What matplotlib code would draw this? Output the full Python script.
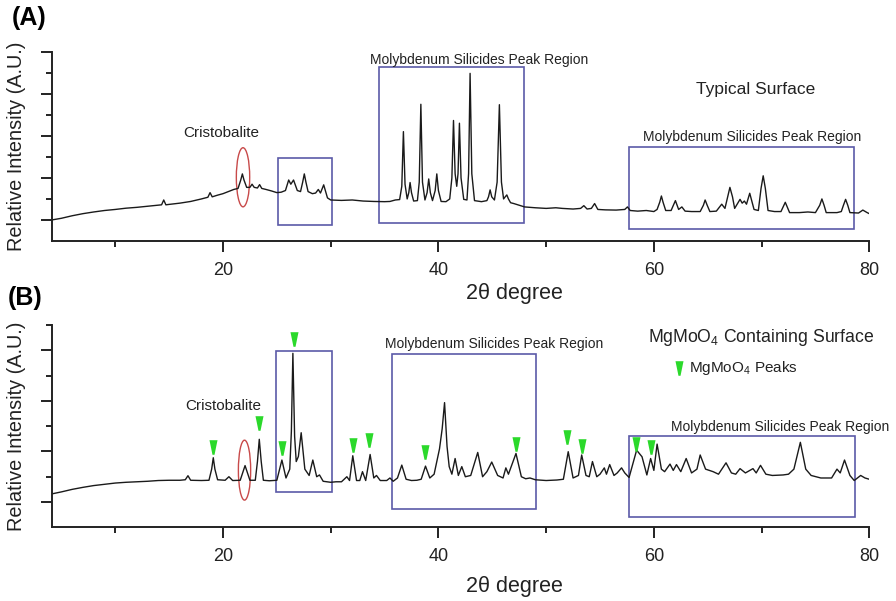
import matplotlib
matplotlib.use("Agg")
import matplotlib.pyplot as plt
from matplotlib.patches import Rectangle, Ellipse
from matplotlib.ticker import FixedLocator

plt.rcParams['font.family'] = ['Liberation Sans', 'DejaVu Sans']
plt.rcParams['mathtext.fontset'] = 'custom'
plt.rcParams['mathtext.rm'] = 'Liberation Sans'

# ---------------- data: panel A (typical surface) ----------------
a_theta = [4.1, 5, 6, 7, 8, 9, 10, 11, 12, 13, 14, 14.3, 14.5, 14.7, 15, 16, 17, 18,
           18.6, 18.8, 19.0, 19.5, 20, 20.5, 21, 21.4, 21.65, 21.8, 21.95, 22.2, 22.5,
           22.7, 22.9, 23.2, 23.4, 23.6, 24, 24.5, 25, 25.4, 25.8, 26.1, 26.3, 26.55,
           26.9, 27.2, 27.4, 27.55, 27.7, 27.9, 28.3, 28.6, 28.85, 29.05, 29.35, 29.7,
           30, 31, 32, 33, 34, 35, 35.5, 36.0, 36.4, 36.6, 36.75, 36.9, 37.1, 37.25,
           37.37, 37.5, 37.7, 38.05, 38.22, 38.37, 38.52, 38.75, 38.95, 39.1, 39.25,
           39.45, 39.7, 39.85, 40.0, 40.25, 40.7, 41.05, 41.25, 41.4, 41.55, 41.7,
           41.82, 41.95, 42.1, 42.35, 42.65, 42.8, 42.94, 43.1, 43.35, 44.0, 44.5,
           44.65, 44.8, 44.95, 45.2, 45.45, 45.66, 45.85, 46.05, 46.2, 46.35, 46.5,
           46.7, 47, 47.5, 48, 49, 50, 50.9, 51.5, 52.5, 53.2, 53.5, 53.8, 54.2, 54.5,
           54.8, 55.5, 56.5, 57.3, 57.55, 57.8, 58.5, 59.3, 60.0, 60.3, 60.55, 60.7,
           60.85, 61.1, 61.6, 62.0, 62.3, 62.6, 62.9, 63.5, 64.3, 64.6, 64.76, 64.95,
           65.2, 65.8, 66.3, 66.6, 66.85, 67.06, 67.3, 67.5, 68.0, 68.2, 68.4, 68.6,
           68.9, 69.3, 69.7, 69.95, 70.15, 70.35, 70.6, 71.2, 71.8, 72.2, 72.6, 73.5,
           74.3, 75.0, 75.4, 75.6, 75.8, 76.0, 77.0, 77.4, 77.6, 77.8, 78.0, 78.2,
           79.0, 79.4, 79.8, 80]
a_int = [1.00, 1.08, 1.20, 1.30, 1.38, 1.45, 1.50, 1.56, 1.60, 1.65, 1.70, 1.72, 1.95,
         1.72, 1.74, 1.80, 1.88, 2.00, 2.08, 2.30, 2.10, 2.18, 2.25, 2.35, 2.45, 2.50,
         2.90, 3.19, 2.90, 2.55, 2.55, 2.70, 2.55, 2.52, 2.68, 2.50, 2.45, 2.38, 2.30,
         2.32, 2.40, 2.90, 2.70, 2.90, 2.40, 2.35, 2.80, 3.19, 2.80, 2.35, 2.25, 2.28,
         2.45, 2.28, 2.67, 2.05, 1.95, 1.93, 1.95, 1.90, 1.88, 1.87, 1.88, 1.95, 1.97,
         2.60, 5.20, 2.70, 2.00, 2.30, 2.78, 2.30, 1.90, 1.92, 2.80, 6.50, 2.80, 1.95,
         2.30, 2.95, 2.30, 1.92, 2.40, 3.19, 2.40, 1.88, 1.87, 2.00, 3.00, 5.73, 3.20,
         2.60, 3.20, 5.60, 3.00, 1.98, 1.95, 3.20, 7.97, 3.20, 1.92, 1.87, 1.92, 2.10,
         2.43, 2.10, 1.95, 2.80, 6.48, 2.80, 2.00, 2.10, 2.19, 2.00, 1.82, 1.78, 1.70,
         1.62, 1.58, 1.55, 1.58, 1.55, 1.52, 1.55, 1.68, 1.52, 1.55, 1.78, 1.50, 1.48,
         1.47, 1.50, 1.62, 1.45, 1.42, 1.45, 1.40, 1.50, 1.85, 2.14, 1.85, 1.45, 1.45,
         1.92, 1.50, 1.62, 1.42, 1.40, 1.40, 1.70, 1.95, 1.70, 1.40, 1.42, 1.75, 1.55,
         2.10, 2.55, 2.10, 1.55, 1.98, 1.80, 1.90, 1.75, 2.27, 1.50, 1.45, 2.50, 3.10,
         2.50, 1.45, 1.40, 1.40, 1.84, 1.35, 1.35, 1.38, 1.35, 1.70, 2.00, 1.70, 1.35,
         1.35, 1.40, 1.70, 1.98, 1.70, 1.35, 1.33, 1.47, 1.35, 1.30]

# ---------------- data: panel B (MgMoO4 containing surface) ----------------
b_theta = [4.1, 5, 6, 7, 8, 9, 10, 11, 12, 13, 14, 15, 16, 16.5, 16.75, 17.0, 18, 18.7,
           18.95, 19.1, 19.25, 19.5, 20.2, 20.55, 20.9, 21.6, 22.05, 22.5, 23.0, 23.2,
           23.37, 23.55, 23.75, 24.3, 25.0, 25.47, 25.85, 26.2, 26.35, 26.49, 26.65,
           26.8, 27.0, 27.26, 27.6, 28.0, 28.34, 28.7, 28.96, 29.3, 30, 30.5, 31, 31.5,
           31.75, 32.05, 32.4, 32.7, 32.95, 33.25, 33.66, 34.0, 34.25, 34.6, 35.2, 35.5,
           35.8, 36.2, 36.6, 37.0, 37.5, 38.0, 38.4, 38.8, 39.2, 39.6, 40.1, 40.35,
           40.57, 40.8, 41.0, 41.25, 41.55, 41.85, 42.17, 42.5, 43.0, 43.65, 44.1, 44.5,
           44.95, 45.5, 46.0, 46.26, 46.5, 47.2, 47.7, 48.1, 48.5, 49.0, 50, 51, 51.6,
           52.05, 52.5, 53.0, 53.3, 53.7, 54.0, 54.3, 54.7, 55.0, 55.4, 55.6, 55.9,
           56.3, 56.6, 57.0, 57.3, 57.7, 58.4, 58.9, 59.35, 59.7, 60.0, 60.3, 60.7,
           61.0, 61.5, 61.8, 62.1, 62.5, 63.0, 63.5, 64.0, 64.3, 64.8, 65.5, 66.0, 66.7,
           67.2, 67.6, 68.0, 68.5, 69.2, 69.5, 69.9, 70.4, 71.0, 72.0, 72.5, 73.0,
           73.6, 74.1, 74.6, 75.5, 76.5, 77.0, 77.3, 77.7, 78.2, 78.6, 79.2, 79.6, 80.0]
b_int = [1.32, 1.40, 1.50, 1.58, 1.65, 1.70, 1.75, 1.78, 1.80, 1.82, 1.85, 1.86, 1.86,
         1.88, 2.04, 1.86, 1.85, 1.86, 2.30, 2.75, 2.30, 1.88, 1.86, 2.00, 1.85, 1.86,
         2.44, 1.86, 1.86, 2.60, 3.48, 2.60, 1.86, 1.84, 1.86, 2.66, 1.95, 2.30, 3.80,
         6.88, 3.60, 2.60, 2.80, 3.74, 2.30, 2.05, 2.66, 2.00, 2.07, 1.82, 1.78, 1.80,
         1.80, 2.00, 1.85, 2.83, 1.85, 1.85, 2.20, 1.85, 2.88, 1.95, 2.05, 1.85, 1.85,
         1.95, 1.82, 1.95, 2.46, 1.90, 1.85, 1.86, 1.90, 2.42, 1.95, 2.10, 3.10, 3.90,
         4.93, 3.20, 2.40, 2.10, 2.72, 2.05, 2.40, 2.00, 2.05, 2.96, 2.00, 2.20, 2.58,
         2.05, 1.95, 2.35, 2.10, 2.92, 2.00, 1.92, 1.95, 1.88, 1.85, 1.87, 1.90, 2.99,
         1.95, 2.05, 2.86, 2.05, 2.00, 2.60, 2.00, 2.10, 2.35, 2.10, 2.48, 2.05, 2.15,
         2.35, 2.15, 1.97, 3.05, 2.79, 2.07, 2.72, 2.25, 3.29, 2.30, 2.20, 2.50, 2.25,
         2.48, 2.20, 2.72, 2.15, 2.30, 2.86, 2.30, 2.20, 2.10, 2.55, 2.15, 2.10, 2.32,
         2.15, 2.32, 2.15, 2.45, 2.10, 2.05, 2.07, 2.10, 2.30, 3.36, 2.30, 2.05, 1.95,
         1.95, 2.30, 2.15, 2.66, 2.05, 1.85, 2.05, 1.95, 1.90]

# MgMoO4 peak markers (panel B)
mg_theta = [19.1, 23.37, 25.47, 26.6, 32.1, 33.55, 38.8, 47.2, 51.9, 53.3, 58.3, 59.7]
mg_level = [3.19, 4.11, 3.12, 7.43, 3.24, 3.45, 2.96, 3.29, 3.57, 3.20, 3.29, 3.17]

# region boxes: (x0, x1, y0, y1)
a_boxes = [(25.07, 30.1, 0.75, 3.94), (34.5, 47.98, 0.87, 8.27), (57.7, 78.6, 0.59, 4.49)]
b_boxes = [(24.88, 30.14, 1.38, 6.98), (35.7, 49.1, 0.72, 6.85), (57.7, 78.66, 0.39, 3.62)]

W, H = 896, 601
fig = plt.figure(figsize=(W / 100, H / 100), dpi=100)

def fx(px):
    return px / W

def fy(py):
    return 1 - py / H

axA = fig.add_axes([fx(51.7), fy(241), fx(869.3) - fx(51.7), fy(51.7) - fy(241)])
axB = fig.add_axes([fx(51.7), fy(527.3), fx(869.3) - fx(51.7), fy(325) - fy(527.3)])

BOX_C = '#5b5aa8'
ELL_C = '#c84a4a'
GREEN = '#2bd92b'

def style(ax, ytop):
    ax.set_xlim(4.1, 80)
    ax.set_ylim(0, ytop)
    for s in ['top', 'right']:
        ax.spines[s].set_visible(False)
    for s in ['left', 'bottom']:
        ax.spines[s].set_linewidth(1.4)
        ax.spines[s].set_color('#222222')
    ax.xaxis.set_major_locator(FixedLocator([20, 40, 60, 80]))
    ax.xaxis.set_minor_locator(FixedLocator([10, 30, 50, 70]))
    ax.yaxis.set_major_locator(FixedLocator([v for v in range(1, ytop + 1, 2)]))
    ax.yaxis.set_minor_locator(FixedLocator([v for v in range(2, ytop + 1, 2)]))
    ax.tick_params(which='major', length=8, width=1.4, color='#222222', direction='out')
    ax.tick_params(which='minor', length=4, width=1.4, color='#222222', direction='out')
    ax.tick_params(axis='x', labelsize=13, pad=7, labelcolor='#222222')
    ax.tick_params(axis='y', labelleft=False)
    ax.set_facecolor('none')

style(axA, 9)
style(axB, 8)

axA.plot(a_theta, a_int, color='#1a1a1a', lw=1.0)
axB.plot(b_theta, b_int, color='#1a1a1a', lw=1.0)

for ax, boxes in ((axA, a_boxes), (axB, b_boxes)):
    for x0, x1, y0, y1 in boxes:
        ax.add_patch(Rectangle((x0, y0), x1 - x0, y1 - y0, fill=False,
                               edgecolor=BOX_C, lw=1.2, clip_on=False))

axA.add_patch(Ellipse((21.86, 3.03), 1.24, 2.81, fill=False, edgecolor=ELL_C, lw=1.0, clip_on=False))
axB.add_patch(Ellipse((22.0, 2.26), 1.14, 2.37, fill=False, edgecolor=ELL_C, lw=1.0, clip_on=False))

tri = [(-0.55, 1.0), (0.55, 1.0), (0.14, -1.0), (-0.14, -1.0), (-0.55, 1.0)]
axB.plot(mg_theta, mg_level, linestyle='none', marker=tri, markersize=10.5,
         color=GREEN, markeredgewidth=0, clip_on=False)

# texts
tc = '#222222'
fig.text(fx(29), fy(18), '(A)', fontsize=18, fontweight='bold', ha='center', va='center')
fig.text(fx(25), fy(298), '(B)', fontsize=18, fontweight='bold', ha='center', va='center')
for yc in (146, 426):
    fig.text(fx(17), fy(yc), 'Relative Intensity (A.U.)', fontsize=14.3, rotation=90,
             ha='center', va='center', color=tc)
fig.text(fx(514), fy(294), '2θ degree', fontsize=15.5, ha='center', va='center', color=tc)
fig.text(fx(514), fy(586.7), '2θ degree', fontsize=15.5, ha='center', va='center', color=tc)

fig.text(fx(221), fy(133.3), 'Cristobalite', fontsize=11, ha='center', va='center', color=tc)
fig.text(fx(479), fy(60), 'Molybdenum Silicides Peak Region', fontsize=10, ha='center', va='center', color=tc)
fig.text(fx(755.5), fy(89.3), 'Typical Surface', fontsize=12.5, ha='center', va='center', color=tc)
fig.text(fx(752.3), fy(136.7), 'Molybdenum Silicides Peak Region', fontsize=10, ha='center', va='center', color=tc)

fig.text(fx(223.5), fy(406), 'Cristobalite', fontsize=11, ha='center', va='center', color=tc)
fig.text(fx(494), fy(344), 'Molybdenum Silicides Peak Region', fontsize=10, ha='center', va='center', color=tc)
fig.text(fx(761.3), fy(337.7), r'MgMoO$_\mathregular{4}$ Containing Surface', fontsize=12.7,
         ha='center', va='center', color=tc)
fig.text(fx(689.3), fy(368.3), r'MgMoO$_\mathregular{4}$ Peaks', fontsize=11,
         ha='left', va='center', color=tc)
fig.lines.append(plt.Line2D([fx(678.7)], [fy(368.3)], transform=fig.transFigure,
                            linestyle='none', marker=tri, markersize=10.5, color=GREEN,
                            markeredgewidth=0))
fig.text(fx(780.3), fy(426.7), 'Molybdenum Silicides Peak Region', fontsize=10, ha='center', va='center', color=tc)

fig.savefig('out.png', dpi=100)
